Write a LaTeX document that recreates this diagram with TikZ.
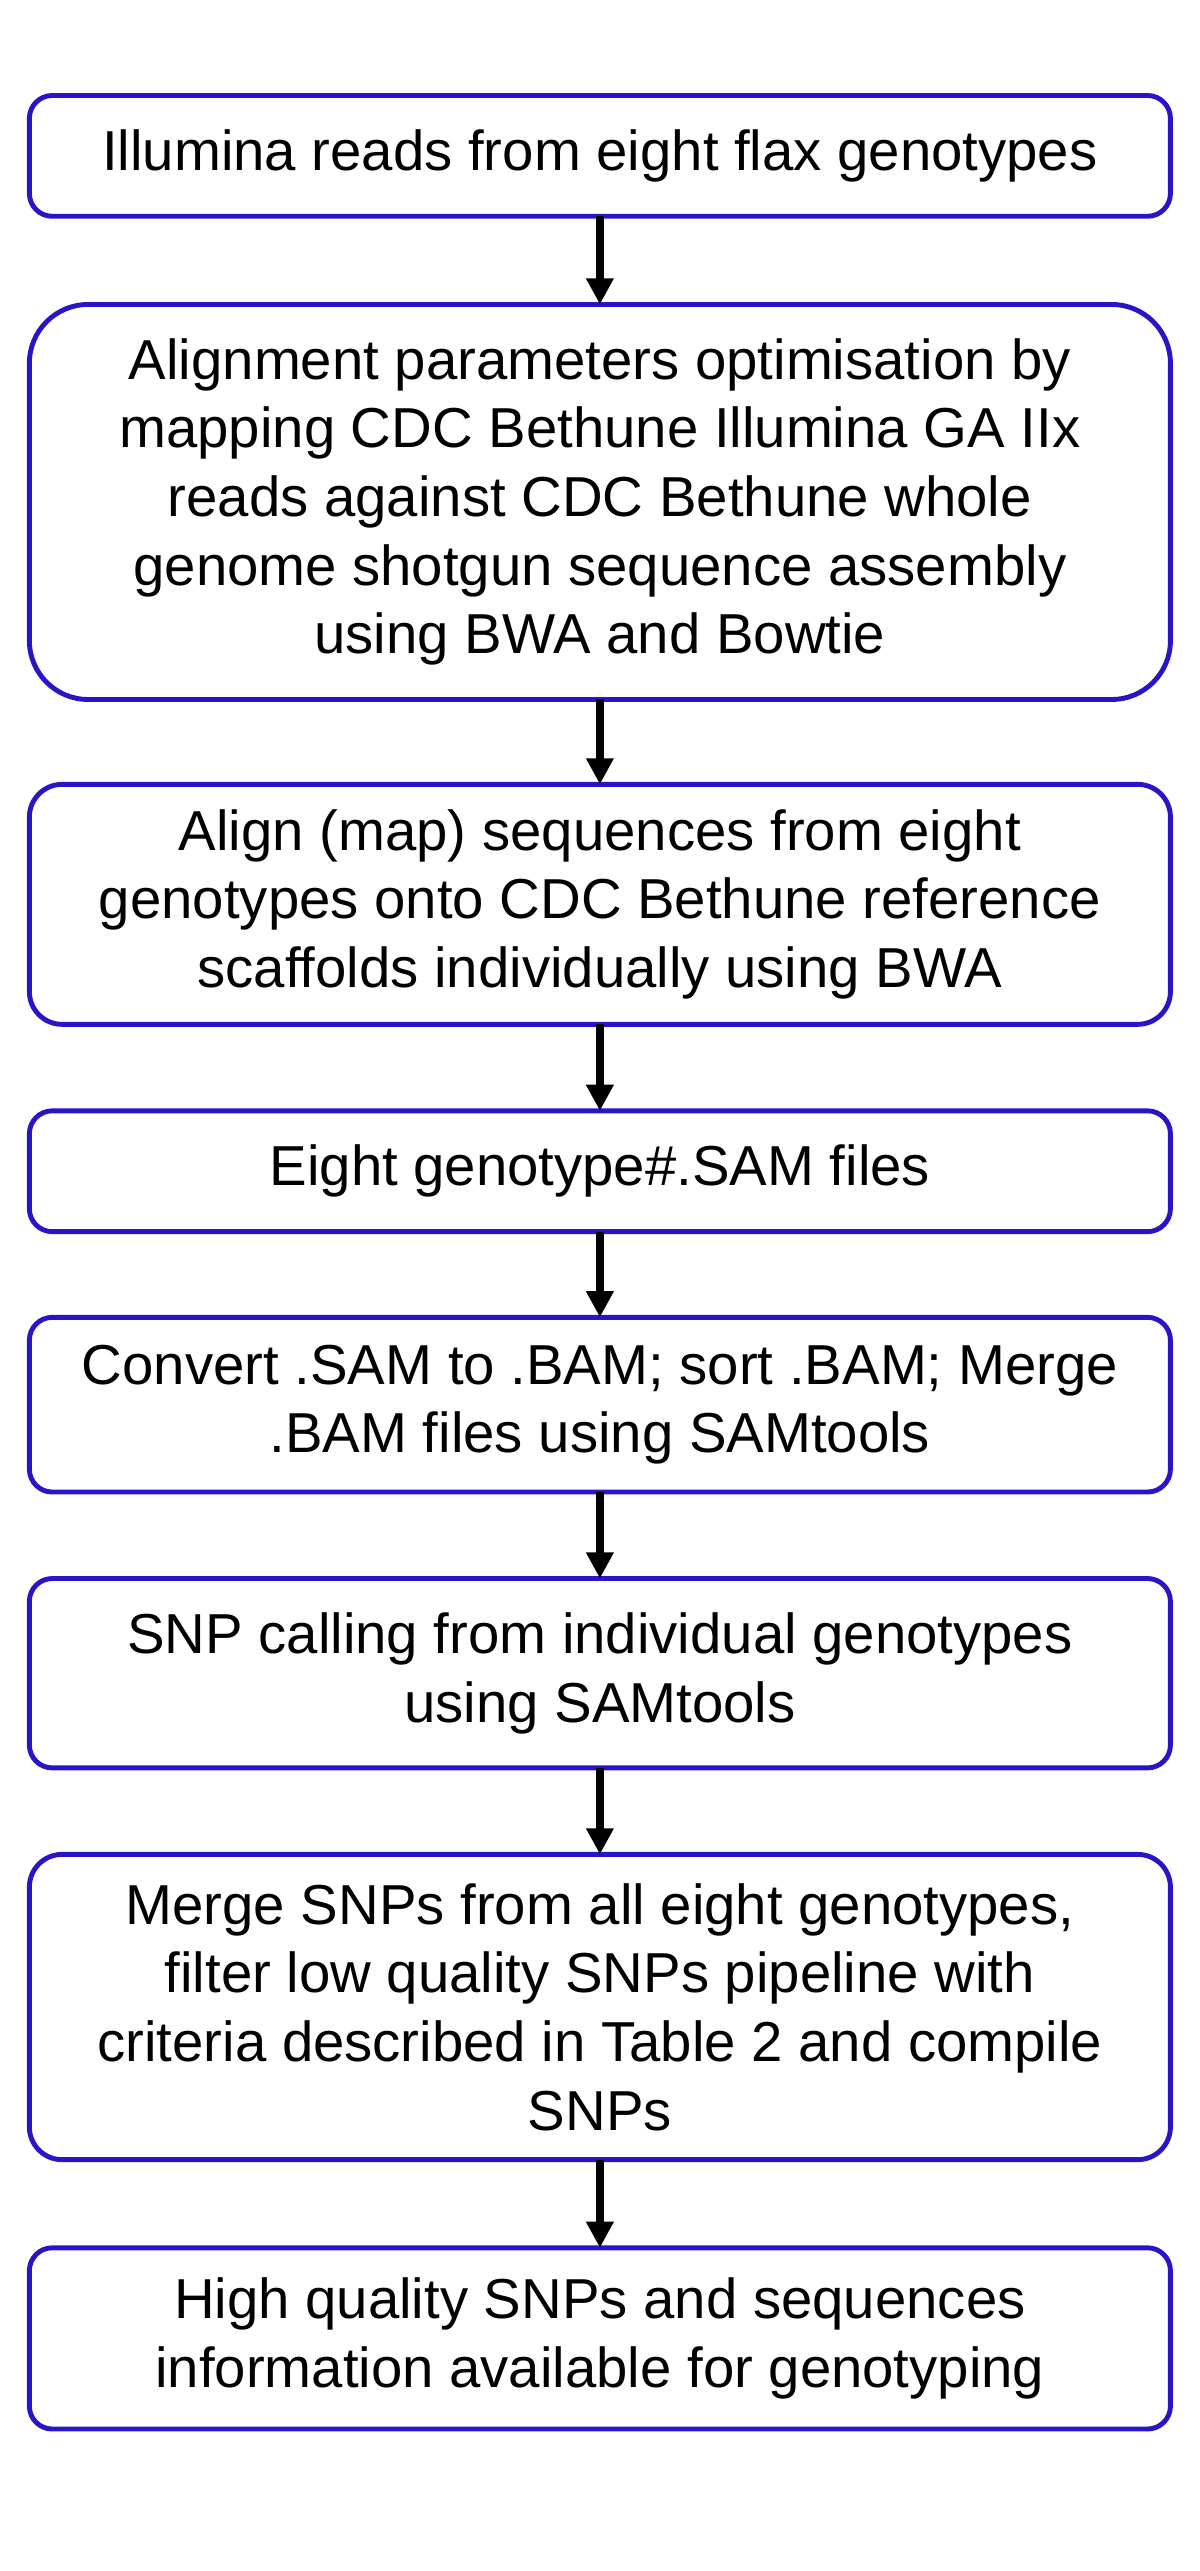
\documentclass[tikz,border=0pt]{standalone}
\usepackage{fontspec}
\setmainfont{Liberation Sans}
\usetikzlibrary{arrows.meta}
\definecolor{bx}{HTML}{2A14C8}
\begin{document}
\begin{tikzpicture}[x=1pt,y=-1pt,
  box/.style={draw=bx,line width=3pt,rounded corners=14pt,minimum width=699pt,align=center,inner sep=0pt,font=\fontsize{34.5}{42}\selectfont},
  arr/.style={line width=4.5pt,-{Triangle[length=16pt,width=16pt]}}]
\useasboundingbox (0,0) rectangle (735,1575);
\node[box,minimum height=74pt] (b1) at (367.5,95.5) {Illumina reads from eight flax genotypes};
\node[box,minimum height=242pt,rounded corners=36pt] (b2) at (367.5,307.5) {Alignment parameters optimisation by\\mapping CDC Bethune Illumina GA IIx\\reads against CDC Bethune whole\\genome shotgun sequence assembly\\using BWA and Bowtie};
\node[box,minimum height=147pt,rounded corners=20pt] (b3) at (367.5,554) {Align (map) sequences from eight\\genotypes onto CDC Bethune reference\\scaffolds individually using BWA};
\node[box,minimum height=74pt] (b4) at (367.5,717.5) {Eight genotype\#.SAM files};
\node[box,minimum height=107pt] (b5) at (367.5,860.5) {Convert .SAM to .BAM; sort .BAM; Merge\\.BAM files using SAMtools};
\node[box,minimum height=116pt] (b6) at (367.5,1025) {SNP calling from individual genotypes\\using SAMtools};
\node[box,minimum height=187pt,rounded corners=20pt] (b7) at (367.5,1229.5) {Merge SNPs from all eight genotypes,\\filter low quality SNPs pipeline with\\criteria described in Table 2 and compile\\SNPs};
\node[box,minimum height=111pt] (b8) at (367.5,1432.5) {High quality SNPs and sequences\\information available for genotyping};
\foreach \a/\b in {b1/b2,b2/b3,b3/b4,b4/b5,b5/b6,b6/b7,b7/b8}
  \draw[arr] ([yshift=1.5pt]\a.south) -- ([yshift=-1.5pt]\b.north);
\end{tikzpicture}
\end{document}
